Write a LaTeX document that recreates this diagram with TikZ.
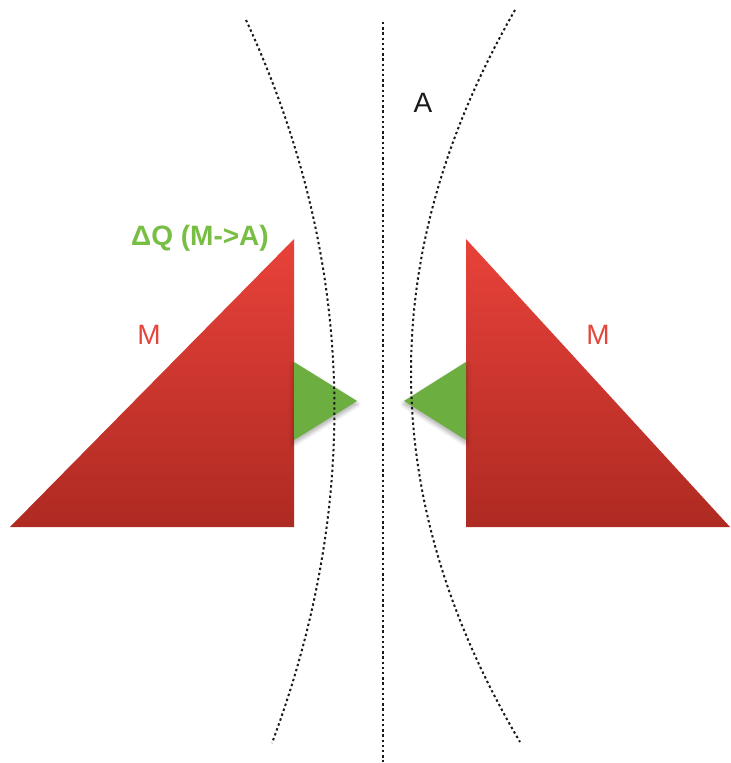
\documentclass[tikz,border=0pt]{standalone}
\usepackage{fontspec}
\setmainfont{Liberation Sans}
\usetikzlibrary{shadows.blur}
\definecolor{redtop}{HTML}{E8423A}
\definecolor{redmid}{HTML}{DA3B31}
\definecolor{redbot}{HTML}{AE2A22}
\definecolor{leaf}{HTML}{6CAE3F}
\definecolor{leaftext}{HTML}{78BE45}
\definecolor{redtext}{HTML}{E5463C}
\definecolor{ink}{HTML}{1A1A1A}

\begin{document}
\begin{tikzpicture}[x=0.5pt,y=-0.5pt,
  mass/.style={top color=redtop,middle color=redmid,bottom color=redbot,draw=none},
  flow/.style={fill=leaf,draw=none,blur shadow={shadow xshift=0pt,shadow yshift=-1.5pt,shadow opacity=35,shadow blur steps=6}},
  guide/.style={draw=ink,line width=1pt,dash pattern=on 1.2pt off 1.4pt},
  lbl/.style={inner sep=0pt,font=\fontsize{14}{16}\selectfont}]
  \useasboundingbox (0,0) rectangle (730,763);
  \path[mass] (10,527) -- (294,239) -- (294,527) -- cycle;
  \path[mass] (466,239) -- (730,527) -- (466,527) -- cycle;
  \path[flow] (294,362) -- (357,401) -- (294,440) -- cycle;
  \path[flow] (466,362) -- (404,401) -- (466,440) -- cycle;
  \draw[guide] (383,22) -- (383,762);
  \draw[guide] (246,20) .. controls (357,260) and (361,505) .. (272,743);
  \draw[guide] (515,10) .. controls (375,254) and (376,498) .. (520,742);
  \node[lbl,font=\fontsize{14}{16}\selectfont\bfseries,text=leaftext] (dq) at (200,238) {ΔQ (M->A)};
  \node[lbl,text=redtext] (mleft) at (149,335) {M};
  \node[lbl,text=redtext] (mright) at (598,335) {M};
  \node[lbl,text=ink] (a) at (423,103) {A};
\end{tikzpicture}
\end{document}
